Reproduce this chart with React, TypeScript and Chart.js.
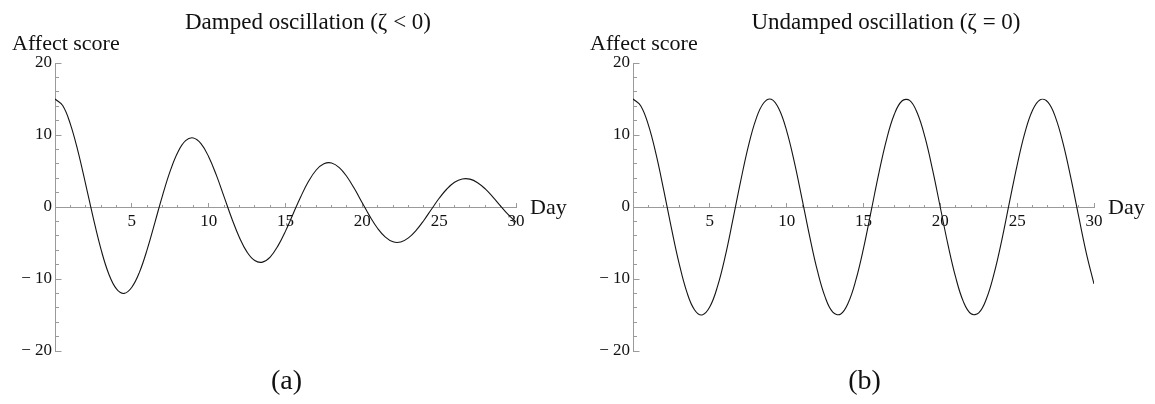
import { useEffect, useRef } from 'react';
import { Chart, registerables } from 'chart.js';

Chart.register(...registerables);

// Sampled days (half-day steps) shared by both panels
const days = [
  0, 0.5, 1, 1.5, 2, 2.5, 3, 3.5, 4, 4.5, 5, 5.5, 6, 6.5, 7, 7.5, 8, 8.5, 9, 9.5,
  10, 10.5, 11, 11.5, 12, 12.5, 13, 13.5, 14, 14.5, 15, 15.5, 16, 16.5, 17, 17.5,
  18, 18.5, 19, 19.5, 20, 20.5, 21, 21.5, 22, 22.5, 23, 23.5, 24, 24.5, 25, 25.5,
  26, 26.5, 27, 27.5, 28, 28.5, 29, 29.5, 30,
];

// Affect score, damped oscillation
const dampedScores = [
  15.0, 14.09, 11.52, 7.69, 3.12, -1.61, -5.92, -9.3, -11.38, -12.0, -11.14, -9.04,
  -5.89, -2.16, 1.62, 5.01, 7.64, 9.21, 9.59, 8.8, 6.98, 4.42, 1.44, -1.57, -4.23,
  -6.26, -7.44, -7.66, -6.95, -5.43, -3.35, -0.93, 1.46, 3.57, 5.14, 6.0, 6.11, 5.47,
  4.2, 2.49, 0.56, -1.34, -2.98, -4.19, -4.84, -4.86, -4.29, -3.25, -1.87, -0.31,
  1.21, 2.5, 3.43, 3.89, 3.87, 3.38, 2.51, 1.38, 0.13, -1.07, -2.08,
];

// Affect score, undamped oscillation
const undampedScores = [
  15.0, 14.07, 11.4, 7.34, 2.34, -2.94, -7.83, -11.79, -14.27, -14.99, -13.86, -11.03,
  -6.86, -1.76, 3.52, 8.39, 12.17, 14.45, 14.96, 13.61, 10.58, 6.24, 1.14, -4.11,
  -8.85, -12.49, -14.6, -14.89, -13.34, -10.17, -5.74, -0.54, 4.71, 9.37, 12.84,
  14.72, 14.81, 13.05, 9.69, 5.12, -0.07, -5.26, -9.78, -13.14, -14.83, -14.7, -12.75,
  -9.22, -4.59, 0.67, 5.83, 10.29, 13.43, 14.91, 14.56, 12.42, 8.73, 3.97, -1.28,
  -6.39, -10.69,
];

// Axis ranges and tick spacing
const dayRange = [0, 30];
const scoreRange = [-20, 20];
const dayMajorStep = 5;
const dayMinorStep = 1;
const scoreMajorStep = 10;
const scoreMinorStep = 2;

const SERIF = '"Liberation Serif", "Times New Roman", serif';
const AXIS_COLOR = '#9a9a9a';
const INK = '#111111';

const CANVAS_W = 577;
const CANVAS_H = 404;

function alignPx(p: number) {
  return Math.round(p - 0.5) + 0.5;
}

// Mathematica-style inward tick marks (major + minor) on both axes
const axisMarks = {
  id: 'axisMarks',
  beforeDatasetsDraw(chart: any) {
    const { ctx, scales } = chart;
    const xs = scales.x;
    const ys = scales.y;
    const y0 = alignPx(ys.getPixelForValue(0));
    const x0 = alignPx(xs.getPixelForValue(dayRange[0]));
    ctx.save();
    ctx.strokeStyle = AXIS_COLOR;
    ctx.lineWidth = 1;
    ctx.beginPath();
    for (let d = dayRange[0] + dayMinorStep; d <= dayRange[1] + 1e-9; d += dayMinorStep) {
      const px = alignPx(xs.getPixelForValue(d));
      const len = d % dayMajorStep === 0 ? 4.5 : 2.5;
      ctx.moveTo(px, y0);
      ctx.lineTo(px, y0 - len);
    }
    for (let v = scoreRange[0]; v <= scoreRange[1] + 1e-9; v += scoreMinorStep) {
      const py = alignPx(ys.getPixelForValue(v));
      const len = v % scoreMajorStep === 0 ? 6 : 3.5;
      ctx.moveTo(x0, py);
      ctx.lineTo(x0 + len, py);
    }
    ctx.stroke();
    ctx.restore();
  },
};

function panelText(title: string, panel: string) {
  return {
    id: 'panelText',
    afterDraw(chart: any) {
      const { ctx, chartArea, scales } = chart;
      const y0 = scales.y.getPixelForValue(0);
      ctx.save();
      ctx.fillStyle = INK;
      ctx.textBaseline = 'alphabetic';

      ctx.font = `23px ${SERIF}`;
      ctx.textAlign = 'center';
      ctx.fillText(title, chartArea.left + 253, 29);

      ctx.font = `22px ${SERIF}`;
      ctx.textAlign = 'left';
      ctx.fillText('Affect score', chartArea.left - 43, chartArea.top - 13);

      ctx.font = `22px ${SERIF}`;
      ctx.textAlign = 'left';
      ctx.fillText('Day', chartArea.right + 14, y0 + 7);

      ctx.font = `28px ${SERIF}`;
      ctx.textAlign = 'center';
      ctx.fillText(panel, (chartArea.left + chartArea.right) / 2 + 1, 389);
      ctx.restore();
    },
  };
}

function buildConfig(scores: number[], title: string, panel: string): any {
  return {
    type: 'line',
    data: {
      datasets: [
        {
          data: days.map((d, i) => ({ x: d, y: scores[i] })),
          borderColor: '#141414',
          borderWidth: 1.1,
          pointRadius: 0,
          tension: 0.4,
          fill: false,
        },
      ],
    },
    options: {
      animation: false,
      responsive: false,
      maintainAspectRatio: false,
      layout: { padding: { left: 15, right: 61, top: 63, bottom: 53 } },
      plugins: {
        legend: { display: false },
        tooltip: { enabled: false },
        title: { display: false },
      },
      scales: {
        x: {
          type: 'linear',
          min: dayRange[0],
          max: dayRange[1],
          position: { y: 0 },
          grid: { display: false, drawTicks: false },
          border: { display: true, color: AXIS_COLOR, width: 1 },
          ticks: {
            stepSize: dayMajorStep,
            padding: 4,
            color: INK,
            autoSkip: false,
            maxRotation: 0,
            font: { family: SERIF, size: 17 },
            callback: (v: number) => (v === 0 ? '' : String(v)),
          },
        },
        y: {
          type: 'linear',
          min: scoreRange[0],
          max: scoreRange[1],
          position: 'left',
          afterFit: (s: any) => {
            s.width = 40;
          },
          grid: { display: false, drawTicks: false },
          border: { display: true, color: AXIS_COLOR, width: 1 },
          ticks: {
            stepSize: scoreMajorStep,
            padding: 3,
            color: INK,
            font: { family: SERIF, size: 17 },
            callback: (v: number) => (v < 0 ? '\u2212 ' + Math.abs(v) : String(v)),
          },
        },
      },
    },
    plugins: [axisMarks, panelText(title, panel)],
  };
}

function OscillationPanel(props: { scores: number[]; title: string; panel: string; left: number }) {
  const ref = useRef<HTMLCanvasElement | null>(null);
  useEffect(() => {
    if (!ref.current) return;
    const chart = new Chart(ref.current, buildConfig(props.scores, props.title, props.panel));
    return () => chart.destroy();
  }, [props.scores, props.title, props.panel]);
  return (
    <canvas
      ref={ref}
      width={CANVAS_W}
      height={CANVAS_H}
      style={{ position: 'absolute', left: props.left, top: 0, width: CANVAS_W, height: CANVAS_H }}
    />
  );
}

export default function App() {
  return (
    <div
      style={{
        position: 'absolute',
        left: 0,
        top: 0,
        width: 1155,
        height: 404,
        background: '#ffffff',
        overflow: 'hidden',
      }}
    >
      <OscillationPanel scores={dampedScores} title={'Damped oscillation (\u03b6 < 0)'} panel="(a)" left={0} />
      <OscillationPanel scores={undampedScores} title={'Undamped oscillation (\u03b6 = 0)'} panel="(b)" left={578} />
    </div>
  );
}
